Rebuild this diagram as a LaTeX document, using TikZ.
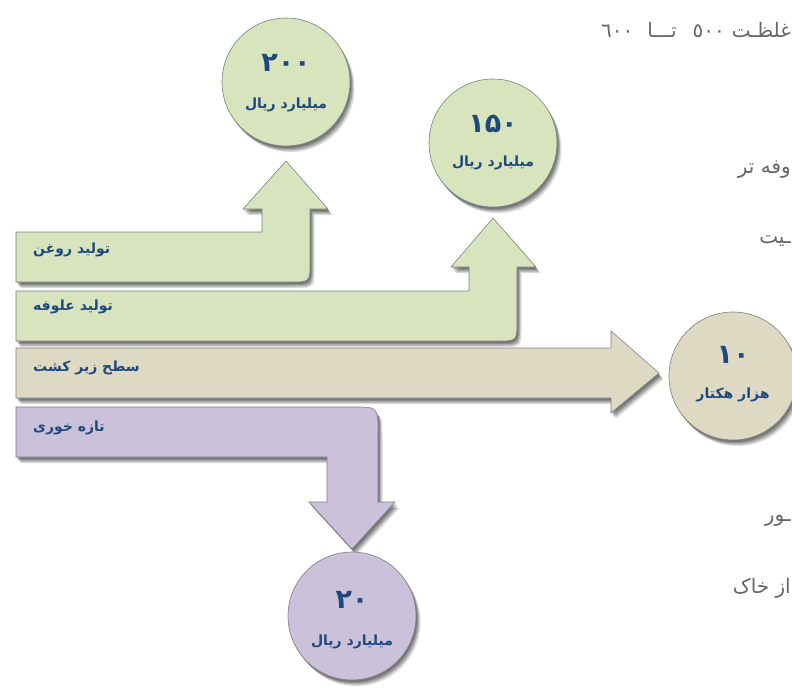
\documentclass[tikz,border=0pt]{standalone}
\usepackage{fontspec}
\newfontfamily\arabicfont[Script=Arabic]{DejaVu Sans}
\TeXXeTstate=1
\definecolor{grn}{HTML}{D7E4BD}
\definecolor{bge}{HTML}{DDD9C3}
\definecolor{prp}{HTML}{CCC1DA}
\definecolor{navy}{HTML}{1F497D}
\definecolor{gtxt}{HTML}{666666}
\definecolor{edgec}{HTML}{7F7F7F}
\begin{document}
\begin{tikzpicture}[x=1pt,y=-1pt,
  softshadow/.style={
    preaction={fill=black, opacity=0.16, transform canvas={xshift=1pt, yshift=-2pt}},
    preaction={fill=black, opacity=0.18, transform canvas={xshift=2pt, yshift=-3pt}},
    preaction={fill=black, opacity=0.20, transform canvas={xshift=3pt, yshift=-4.5pt}},
    preaction={fill=black, opacity=0.15, transform canvas={xshift=4.5pt, yshift=-6pt}}},
  arrowbody/.style={softshadow, draw=edgec, line width=0.6pt, line join=miter},
  bubble/.style={circle, minimum size=128pt, inner sep=0pt, draw=edgec, line width=0.6pt, softshadow},
  lbl/.style={font=\arabicfont\bfseries\fontsize{14}{16}\selectfont, text=navy, anchor=west, inner sep=0pt},
  num/.style={font=\arabicfont\bfseries\fontsize{27}{29}\selectfont, text=navy, inner sep=0pt},
  unit/.style={font=\arabicfont\bfseries\fontsize{14}{16}\selectfont, text=navy, inner sep=0pt},
  bgtext/.style={font=\arabicfont\fontsize{20}{22}\selectfont, text=gtxt, inner sep=0pt}
]
\useasboundingbox (0,0) rectangle (792,693);
\fill[white] (0,0) rectangle (792,693);
\clip (0,0) rectangle (792,693);

% background page text (at the right edge)
\node[bgtext, anchor=east] (g1) at (791,30) {\beginR غلظـت\hspace{7pt}\beginL٥٠٠\endL\hspace{16pt}تـــا\hspace{14pt}\beginL٦٠٠\endL\endR};
\node[bgtext, anchor=east] (g2) at (791,170) {\beginR وفه تر\endR};
\node[bgtext, anchor=east] (g3) at (791,241) {\beginR ـیت\endR};
\node[bgtext, anchor=east] (g4) at (791,521) {\beginR ـور\endR};
\node[bgtext, anchor=east] (g5) at (791,588) {\beginR از خاک\endR};

% arrows
\path[arrowbody, fill=grn] (16,232) -- (262,232) -- (262,209) -- (243,209) -- (286,161)
  -- (328,209) -- (310,209) -- (310,262) .. controls (310,282) .. (290,282) -- (16,282) -- cycle;
\path[arrowbody, fill=grn] (16,291) -- (469,291) -- (469,267) -- (451,267) -- (493,218)
  -- (536,267) -- (517,267) -- (517,321) .. controls (517,341) .. (497,341) -- (16,341) -- cycle;
\path[arrowbody, fill=bge] (16,348) -- (611,348) -- (611,331) -- (659,373) -- (611,413)
  -- (611,398) -- (16,398) -- cycle;
\path[arrowbody, fill=prp] (16,407) -- (353,407) .. controls (378,407) .. (378,432)
  -- (378,502) -- (395,502) -- (352,549) -- (309,502) -- (327,502) -- (327,457) -- (16,457) -- cycle;

% circles
\node[bubble, fill=grn] (c200) at (286,82) {};
\node[bubble, fill=grn] (c150) at (493,143) {};
\node[bubble, fill=bge] (c10) at (733,376) {};
\node[bubble, fill=prp] (c20) at (352,616) {};

\node[num] (n200) at (286,63) {۲۰۰};
\node[unit] (u200) at (286,105) {\beginR میلیارد ریال\endR};
\node[num] (n150) at (493,124) {۱۵۰};
\node[unit] (u150) at (493,163) {\beginR میلیارد ریال\endR};
\node[num] (n10) at (733,355) {۱۰};
\node[unit] (u10) at (733,395) {\beginR هزار هکتار\endR};
\node[num] (n20) at (352,600) {۲۰};
\node[unit] (u20) at (352,642) {\beginR میلیارد ریال\endR};

% arrow labels
\node[lbl] (l1) at (33,250) {\beginR تولید روغن\endR};
\node[lbl] (l2) at (33,307) {\beginR تولید علوفه\endR};
\node[lbl] (l3) at (33,368) {\beginR سطح زیر کشت\endR};
\node[lbl] (l4) at (33,428) {\beginR تازه خوری\endR};
\end{tikzpicture}
\end{document}
